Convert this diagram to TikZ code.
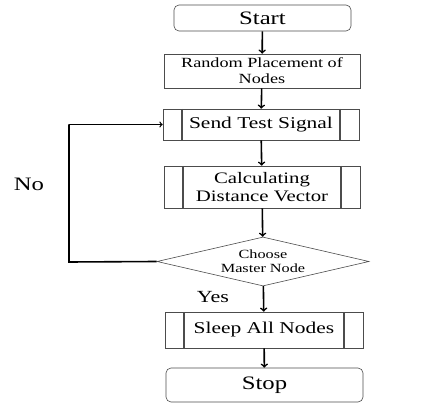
\documentclass[tikz,border=0pt]{standalone}
\usepackage{fontspec}
\setmainfont{Liberation Serif}
\newfontfamily\flowfont[FakeStretch=1.3]{Liberation Serif}
\usepackage{tikz}
\usetikzlibrary{shapes.geometric}

\tikzset{
    box/.style={draw=black!70, line width=0.6pt, rectangle, align=center,
        inner sep=0pt},
    term/.style={box, rounded corners=5pt},
    subproc/.style={box, path picture={
        \draw[line width=1.5pt]
            ([xshift=19pt]path picture bounding box.north west) --
            ([xshift=19pt]path picture bounding box.south west);
        \draw[line width=1.5pt]
            ([xshift=-19pt]path picture bounding box.north east) --
            ([xshift=-19pt]path picture bounding box.south east);}},
    decide/.style={draw=black!70, line width=0.6pt, diamond, aspect=4.3,
        inner sep=0pt, align=center},
    arr/.style={->, line width=1.6pt},
}

\begin{document}
\begin{tikzpicture}[x=1pt,y=-1pt]
    \useasboundingbox (0,0) rectangle (447,406);
    \node[term, minimum width=177pt, minimum height=26pt,
        font=\flowfont\fontsize{19}{21}\selectfont] (start) at (262.5,18) {Start};
    \node[box, minimum width=196pt, minimum height=34pt,
        font=\flowfont\fontsize{14}{16}\selectfont] (place) at (262,71)
        {Random Placement of\\Nodes};
    \node[subproc, minimum width=196pt, minimum height=31pt,
        font=\flowfont\fontsize{16.5}{18}\selectfont] (send) at (261,124.5)
        {Send Test Signal};
    \node[subproc, minimum width=196pt, minimum height=42pt,
        font=\flowfont\fontsize{16}{18}\selectfont] (calc) at (262,187)
        {Calculating\\Distance Vector};
    \node[decide, minimum width=212pt, minimum height=49pt,
        font=\flowfont\fontsize{12.5}{14}\selectfont] (choose) at (263,261.5)
        {Choose\\Master Node};
    \node[subproc, minimum width=198pt, minimum height=36pt,
        font=\flowfont\fontsize{16.5}{18}\selectfont] (sleep) at (264,330)
        {Sleep All Nodes};
    \node[term, minimum width=197pt, minimum height=34pt,
        font=\flowfont\fontsize{19}{21}\selectfont] (stop) at (264.5,385) {Stop};

    % connectors
    \draw[arr] (start) -- (place);
    \draw[arr] (place) -- (send);
    \draw[arr] (send) -- (calc);
    \draw[arr] (calc) -- (choose);
    \draw[arr] (choose) -- (sleep);
    \draw[arr] (sleep) -- (stop);
    \coordinate (loop) at (69,262);
    \draw[line width=1.6pt] (choose.west) -- (loop) -- (loop |- send.west);
    \draw[->, line width=1.2pt] (loop |- send.west) -- (send.west);

    % labels
    \node[font=\flowfont\fontsize{19}{21}\selectfont] (no) at (29,184) {No};
    \node[font=\flowfont\fontsize{17}{19}\selectfont] (yes) at (213,297) {Yes};
\end{tikzpicture}
\end{document}
